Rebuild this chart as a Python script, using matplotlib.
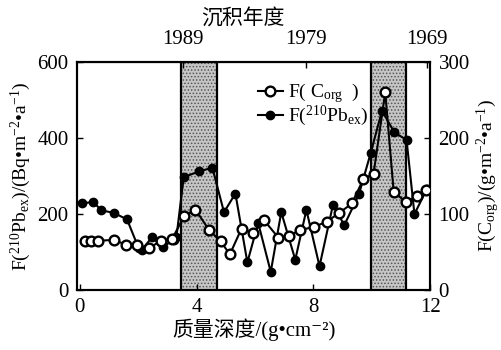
import matplotlib
matplotlib.use("Agg")
import matplotlib.pyplot as plt
from matplotlib.lines import Line2D

plt.rcParams['font.family'] = ['Liberation Serif', 'Noto Sans CJK SC', 'DejaVu Sans']
plt.rcParams['mathtext.fontset'] = 'custom'
plt.rcParams['mathtext.rm'] = 'Liberation Serif'
plt.rcParams['mathtext.it'] = 'Liberation Serif:italic'
plt.rcParams['hatch.linewidth'] = 0.7

# F(210Pb_ex), left axis
pb_depth = [0.08, 0.46, 0.74, 1.17, 1.62, 2.02, 2.12, 2.47, 2.86, 3.22, 3.31,
            3.56, 4.08, 4.54, 4.94, 5.33, 5.74, 6.11, 6.54, 6.90, 7.38, 7.76,
            8.21, 8.67, 9.06, 9.56, 9.96, 10.35, 10.77, 11.19, 11.46, 11.88]
pb_flux = [228, 232, 210, 203, 186, 110, 105, 139, 114, 133, 139,
           297, 312, 322, 205, 254, 73, 177, 48, 205, 80, 211,
           63, 224, 171, 252, 360, 472, 415, 395, 200, 265]

# F(Corg), right axis
c_depth = [0.17, 0.40, 0.63, 1.17, 1.57, 1.95, 2.36, 2.79, 3.16, 3.57, 3.96,
           4.43, 4.83, 5.14, 5.54, 5.94, 6.31, 6.80, 7.16, 7.53, 8.02, 8.45,
           8.87, 9.32, 9.71, 10.06, 10.46, 10.75, 11.17, 11.56, 11.87]
c_flux = [65, 65, 65, 66, 60, 59, 55, 65, 67, 97, 106,
          79, 64, 47, 81, 75, 92, 69, 71, 79, 83, 90,
          101, 114, 146, 153, 260, 129, 116, 124, 132]

# shaded depth intervals
bands = [(3.46, 4.69), (9.97, 11.18)]

year_pos = [3.55, 7.75, 11.9]
year_labels = ['1989', '1979', '1969']

fig = plt.figure(figsize=(5.02, 3.5), dpi=100)
ax = fig.add_axes([0.153, 0.171, 0.704, 0.652])
ax2 = ax.twinx()

for a, b in bands:
    ax.axvspan(a, b, facecolor='#c6c6c6', edgecolor='#555555', hatch='.....',
               linewidth=0, zorder=0)
    ax.axvline(a, color='black', lw=1.6, zorder=1)
    ax.axvline(b, color='black', lw=1.6, zorder=1)

ax.plot(pb_depth, pb_flux, color='black', lw=1.5, marker='o', ms=6,
        mfc='black', mec='black', zorder=3)
ax2.plot(c_depth, c_flux, color='black', lw=1.5, marker='o', ms=7,
         mfc='white', mec='black', mew=1.7, zorder=4)

ax.set_xlim(-0.1, 12.0)
ax.set_ylim(0, 600)
ax2.set_ylim(0, 300)
ax.set_xticks([0, 4, 8, 12])
ax.set_yticks([0, 200, 400, 600])
ax2.set_yticks([0, 100, 200, 300])

ax.tick_params(axis='both', direction='in', length=4, width=1, labelsize=15, pad=6)
ax2.tick_params(axis='y', direction='in', length=4, width=1, labelsize=15, pad=6)
for a in (ax, ax2):
    for s in a.spines.values():
        s.set_linewidth(1.5)

top = ax.secondary_xaxis('top')
top.set_xticks(year_pos)
top.set_xticklabels(year_labels)
top.tick_params(direction='in', length=4, width=1, labelsize=15, pad=9)
fig.text(0.484, 0.943, '沉积年度', fontsize=15, ha='center', va='center')

ax.set_xlabel('质量深度/(g•cm⁻²)', fontsize=15, labelpad=1)
ax.set_ylabel('F($^{210}$Pb$_{\\rm ex}$)/(Bq•m$^{-2}$•a$^{-1}$)', fontsize=14, labelpad=3)
ax2.set_ylabel('F(C$_{\\rm org}$)/(g•m$^{-2}$•a$^{-1}$)', fontsize=14, labelpad=4)

handles = [
    Line2D([], [], color='black', lw=1.5, marker='o', ms=7, mfc='white', mec='black', mew=1.7),
    Line2D([], [], color='black', lw=1.5, marker='o', ms=6, mfc='black', mec='black'),
]
labels = ['F( C$_{\\rm org}$  )', 'F($^{210}$Pb$_{\\rm ex}$)']
ax2.legend(handles, labels, loc='upper left', bbox_to_anchor=(0.49, 0.95),
           frameon=False, fontsize=14, handlelength=1.3, handletextpad=0.25,
           labelspacing=-0.05, borderaxespad=0)

fig.savefig('out.png', dpi=100)
